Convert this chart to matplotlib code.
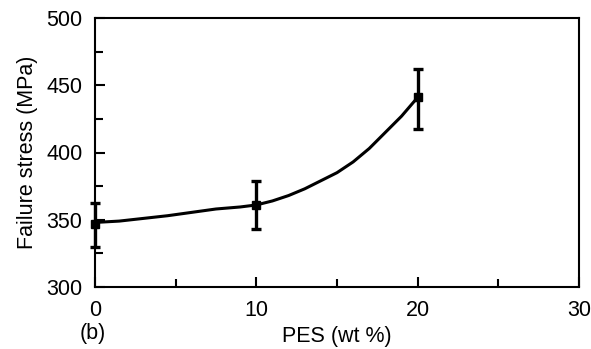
import matplotlib.pyplot as plt
from matplotlib.ticker import MultipleLocator

plt.rcParams['font.family'] = ['Liberation Sans', 'DejaVu Sans']

# measured points with error bars
pes = [0, 10, 20]
stress = [346.5, 361, 441]
err_low = [16.5, 18, 23.5]
err_high = [16, 18, 21]

# trend line
curve_x = [0, 1.5, 3, 4.5, 6, 7.5, 9, 10, 11, 12, 13, 14, 15, 16, 17, 18, 19, 20]
curve_y = [348, 349, 351, 353, 355.5, 358, 359.5, 361, 364, 368, 373, 379,
           385, 393, 403, 415, 427, 441]

fig = plt.figure(figsize=(5.91, 3.49), dpi=100)
ax = fig.add_axes([95 / 591, 1 - 287 / 349, 484 / 591, 269 / 349])

ax.plot(curve_x, curve_y, color='black', lw=2.2, solid_joinstyle='round')
ax.errorbar(pes, stress, yerr=[err_low, err_high], fmt='s', color='black',
            ms=5.5, elinewidth=2.4, capsize=3.8, capthick=2.4, clip_on=False)

ax.set_xlim(0, 30)
ax.set_ylim(300, 500)
ax.set_xticks([0, 10, 20, 30])
ax.set_yticks([300, 350, 400, 450, 500])
ax.xaxis.set_minor_locator(MultipleLocator(5))
ax.yaxis.set_minor_locator(MultipleLocator(25))

ax.tick_params(axis='both', which='both', direction='in', width=1.5,
               top=False, right=False)
ax.tick_params(axis='both', which='major', length=7, labelsize=15.5)
ax.tick_params(axis='both', which='minor', length=5.5)
ax.tick_params(axis='x', which='major', pad=9)
ax.tick_params(axis='y', which='major', pad=9)

for s in ax.spines.values():
    s.set_linewidth(1.5)

ax.set_ylabel('Failure stress (MPa)', fontsize=15.5, labelpad=6)
ax.set_xlabel('PES (wt %)', fontsize=15.5, labelpad=4)
fig.text(80 / 591, 1 - 334 / 349, '(b)', fontsize=15.5, va='center', ha='left')

fig.savefig('out.png', dpi=100)
